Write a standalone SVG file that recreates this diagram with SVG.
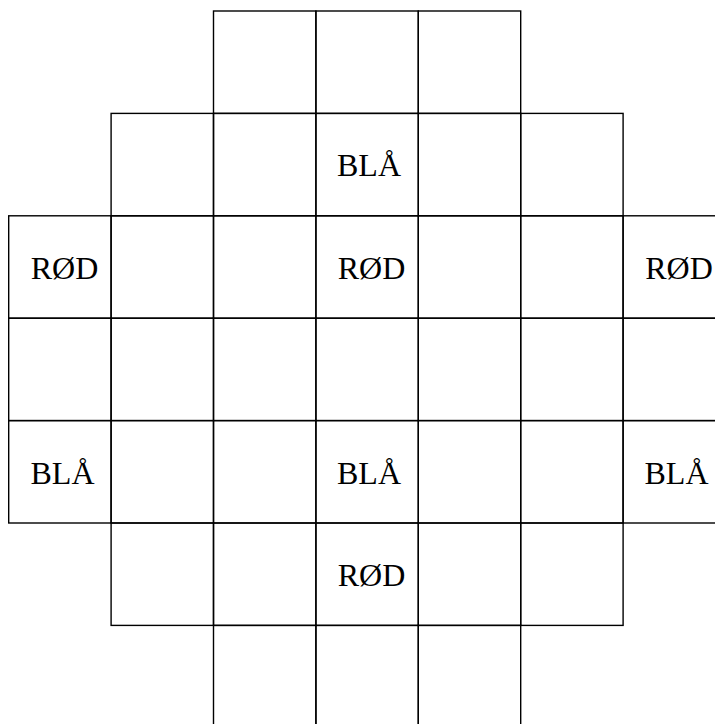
<svg xmlns="http://www.w3.org/2000/svg" width="715" height="724" viewBox="0 0 715 724">
<style>
.c{fill:none;stroke:#000;stroke-width:1.4}
.t{font-family:"Liberation Serif","DejaVu Serif",serif;font-size:32px;fill:#000;text-anchor:middle}
</style>
<rect width="715" height="724" fill="#fff"/>
<g id="grid">
<!-- row 0 -->
<rect class="c" x="213.5" y="11" width="102.4" height="102.4"/>
<rect class="c" x="315.9" y="11" width="102.4" height="102.4"/>
<rect class="c" x="418.3" y="11" width="102.4" height="102.4"/>
<!-- row 1 -->
<rect class="c" x="111.1" y="113.4" width="102.4" height="102.4"/>
<rect class="c" x="213.5" y="113.4" width="102.4" height="102.4"/>
<rect class="c" x="315.9" y="113.4" width="102.4" height="102.4"/>
<rect class="c" x="418.3" y="113.4" width="102.4" height="102.4"/>
<rect class="c" x="520.7" y="113.4" width="102.4" height="102.4"/>
<!-- rows 2-4 -->
<rect class="c" x="8.7" y="215.8" width="102.4" height="102.4"/>
<rect class="c" x="111.1" y="215.8" width="102.4" height="102.4"/>
<rect class="c" x="213.5" y="215.8" width="102.4" height="102.4"/>
<rect class="c" x="315.9" y="215.8" width="102.4" height="102.4"/>
<rect class="c" x="418.3" y="215.8" width="102.4" height="102.4"/>
<rect class="c" x="520.7" y="215.8" width="102.4" height="102.4"/>
<rect class="c" x="623.1" y="215.8" width="102.4" height="102.4"/>
<rect class="c" x="8.7" y="318.2" width="102.4" height="102.4"/>
<rect class="c" x="111.1" y="318.2" width="102.4" height="102.4"/>
<rect class="c" x="213.5" y="318.2" width="102.4" height="102.4"/>
<rect class="c" x="315.9" y="318.2" width="102.4" height="102.4"/>
<rect class="c" x="418.3" y="318.2" width="102.4" height="102.4"/>
<rect class="c" x="520.7" y="318.2" width="102.4" height="102.4"/>
<rect class="c" x="623.1" y="318.2" width="102.4" height="102.4"/>
<rect class="c" x="8.7" y="420.6" width="102.4" height="102.4"/>
<rect class="c" x="111.1" y="420.6" width="102.4" height="102.4"/>
<rect class="c" x="213.5" y="420.6" width="102.4" height="102.4"/>
<rect class="c" x="315.9" y="420.6" width="102.4" height="102.4"/>
<rect class="c" x="418.3" y="420.6" width="102.4" height="102.4"/>
<rect class="c" x="520.7" y="420.6" width="102.4" height="102.4"/>
<rect class="c" x="623.1" y="420.6" width="102.4" height="102.4"/>
<!-- row 5 -->
<rect class="c" x="111.1" y="523" width="102.4" height="102.4"/>
<rect class="c" x="213.5" y="523" width="102.4" height="102.4"/>
<rect class="c" x="315.9" y="523" width="102.4" height="102.4"/>
<rect class="c" x="418.3" y="523" width="102.4" height="102.4"/>
<rect class="c" x="520.7" y="523" width="102.4" height="102.4"/>
<!-- row 6 -->
<rect class="c" x="213.5" y="625.4" width="102.4" height="102.4"/>
<rect class="c" x="315.9" y="625.4" width="102.4" height="102.4"/>
<rect class="c" x="418.3" y="625.4" width="102.4" height="102.4"/>
</g>
<g id="labels">
<text class="t" x="369" y="176">BLÅ</text>
<text class="t" x="64.5" y="279">RØD</text>
<text class="t" x="371.5" y="279">RØD</text>
<text class="t" x="679" y="279">RØD</text>
<text class="t" x="62.5" y="483.5">BLÅ</text>
<text class="t" x="369" y="483.5">BLÅ</text>
<text class="t" x="676.5" y="483.5">BLÅ</text>
<text class="t" x="371.5" y="586">RØD</text>
</g>
</svg>
